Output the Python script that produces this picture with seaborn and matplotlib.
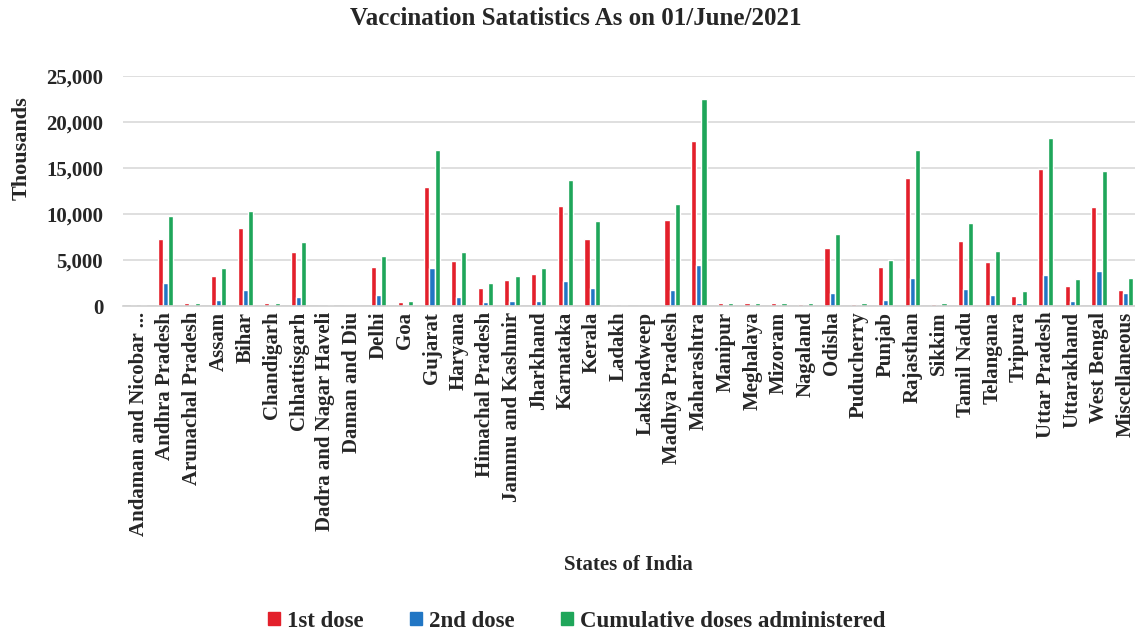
import numpy as np
import pandas as pd
import matplotlib
matplotlib.use("Agg")
import matplotlib.pyplot as plt
import seaborn as sns
from matplotlib.patches import Patch
from matplotlib.ticker import FuncFormatter

# values in thousands
states = ["Andaman and Nicobar ...", "Andhra Pradesh", "Arunachal Pradesh", "Assam", "Bihar",
          "Chandigarh", "Chhattisgarh", "Dadra and Nagar Haveli", "Daman and Diu", "Delhi",
          "Goa", "Gujarat", "Haryana", "Himachal Pradesh", "Jammu and Kashmir", "Jharkhand",
          "Karnataka", "Kerala", "Ladakh", "Lakshadweep", "Madhya Pradesh", "Maharashtra",
          "Manipur", "Meghalaya", "Mizoram", "Nagaland", "Odisha", "Puducherry", "Punjab",
          "Rajasthan", "Sikkim", "Tamil Nadu", "Telangana", "Tripura", "Uttar Pradesh",
          "Uttarakhand", "West Bengal", "Miscellaneous"]
first_dose = [120, 7300, 300, 3300, 8500, 300, 5900, 60, 40, 4200,
              400, 12900, 4900, 2000, 2800, 3500, 10900, 7300, 120, 30,
              9400, 18000, 320, 330, 280, 260, 6300, 220, 4300, 13900,
              230, 7100, 4800, 1100, 14900, 2200, 10800, 1700]
second_dose = [40, 2500, 60, 700, 1800, 80, 1000, 10, 10, 1200,
               100, 4100, 1000, 400, 500, 600, 2700, 2000, 30, 10,
               1700, 4500, 50, 40, 50, 40, 1400, 60, 700, 3000,
               50, 1900, 1200, 300, 3400, 600, 3800, 1400]
cumulative = [160, 9800, 360, 4100, 10300, 380, 7000, 70, 50, 5400,
              500, 17000, 5900, 2500, 3300, 4100, 13700, 9300, 150, 40,
              11100, 22500, 370, 370, 330, 300, 7800, 280, 5000, 17000,
              280, 9000, 6000, 1600, 18300, 2900, 14700, 3100]

series = ["1st dose", "2nd dose", "Cumulative doses administered"]
colors = ["#E3202B", "#2176C4", "#1FA65A"]

df = pd.DataFrame({"State": states, series[0]: first_dose,
                   series[1]: second_dose, series[2]: cumulative})
long_df = df.melt(id_vars="State", var_name="Dose", value_name="Value")

sns.set_style("white")
plt.rcParams["font.family"] = ["Liberation Serif", "DejaVu Serif"]
plt.rcParams["font.weight"] = "bold"

fig = plt.figure(figsize=(11.35, 6.35), dpi=100)
ax = fig.add_axes([0.108, 0.518, 0.892, 0.362])

sns.barplot(data=long_df, x="State", y="Value", hue="Dose", hue_order=series,
            palette=colors, width=0.58, gap=0.0, saturation=1, legend=False, ax=ax)

ax.set_ylim(0, 25000)
ax.set_xlim(-0.6, 37.35)
ax.set_yticks(np.arange(0, 25001, 5000))
ax.yaxis.set_major_formatter(FuncFormatter(lambda v, p: f"{int(v):,}"))
ax.grid(axis="y", color="#d9d9d9", linewidth=1.2)
ax.set_axisbelow(True)
for side in ["top", "right", "left"]:
    ax.spines[side].set_visible(False)
ax.spines["bottom"].set_color("#d0d0d0")
ax.spines["bottom"].set_linewidth(1.2)
ax.tick_params(axis="both", length=0)
ax.tick_params(axis="y", labelsize=15, pad=14)
ax.tick_params(axis="x", labelsize=15, pad=4)
plt.setp(ax.get_xticklabels(), rotation=90, fontweight="bold")
plt.setp(ax.get_yticklabels(), fontweight="bold")

ax.set_xlabel("States of India", fontsize=15, fontweight="bold", labelpad=14)
ax.set_ylabel("")
fig.text(0.019, 0.767, "Thousands", rotation=90, ha="center", va="center",
         fontsize=16, fontweight="bold")
fig.text(0.507, 0.971, "Vaccination Satatistics As on 01/June/2021", ha="center",
         va="center", fontsize=18, fontweight="bold")

handles = [Patch(color=c, label=s) for c, s in zip(colors, series)]
fig.legend(handles=handles, loc="center", bbox_to_anchor=(0.508, 0.022), ncol=3,
           frameon=False, fontsize=16.5, handlelength=0.55, handleheight=0.55,
           handletextpad=0.3, columnspacing=2.0)

fig.savefig("out.png", dpi=100)
